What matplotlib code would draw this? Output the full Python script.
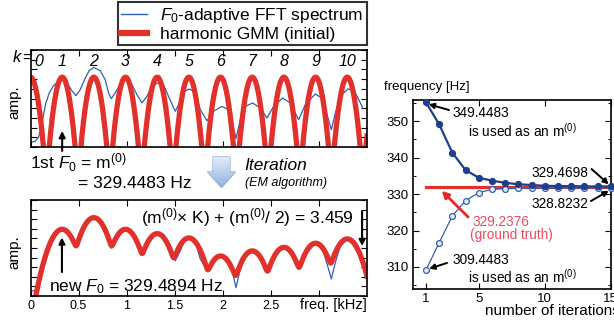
import numpy as np
import matplotlib
matplotlib.use('Agg')
import matplotlib.pyplot as plt
from matplotlib.lines import Line2D
from matplotlib.patches import Polygon

plt.rcParams['font.family'] = ['Liberation Sans', 'DejaVu Sans']
plt.rcParams['mathtext.fontset'] = 'custom'
plt.rcParams['mathtext.rm'] = 'Liberation Sans'
plt.rcParams['mathtext.it'] = 'Liberation Sans:italic'
plt.rcParams['mathtext.bf'] = 'Liberation Sans:bold'

W, H = 614, 327

# F0-adaptive FFT spectrum (freq in kHz, amp in arbitrary log units)
spec_freq = [0.0, 0.049, 0.083, 0.111, 0.135, 0.160, 0.195, 0.239, 0.291, 0.333,
             0.379, 0.431, 0.472, 0.517, 0.569, 0.611, 0.656, 0.725, 0.777, 0.812,
             0.840, 0.881, 0.933, 0.985, 1.055, 1.107, 1.159, 1.211, 1.263, 1.315,
             1.384, 1.443, 1.506, 1.558, 1.602, 1.651, 1.714, 1.766, 1.836, 1.904,
             1.992, 2.060, 2.102, 2.137, 2.182, 2.234, 2.310, 2.390, 2.460, 2.529,
             2.622, 2.702, 2.789, 2.858, 2.962, 3.032, 3.085, 3.129, 3.171, 3.223,
             3.303, 3.371, 3.431, 3.459]
spec_amp = [0.48, 0.58, 1.0, 1.96, 3.33, 4.54, 5.57, 6.32, 6.77, 6.87,
            6.6, 5.8, 5.29, 5.9, 7.1, 7.87, 8.2, 7.87, 6.94, 5.57,
            4.98, 5.57, 6.5, 7.0, 6.42, 5.39, 4.54, 5.22, 6.25, 6.6,
            6.42, 5.05, 3.68, 4.71, 5.74, 5.98, 5.67, 3.85, 2.71, 3.68,
            4.19, 3.85, 2.47, 0.86, 2.81, 4.19, 4.54, 4.02, 2.99, 4.19,
            5.05, 4.54, 2.81, 4.36, 5.46, 5.05, 3.33, 1.78, 3.5, 5.22,
            6.0, 5.74, 4.54, 3.95]

# harmonic GMM parameters
f0_init = 0.3294483   # kHz, m(0)
f0_new = 0.3294894    # kHz, after EM
init_harm = list(range(0, 12))
init_level = [7.2] * 12
new_harm = list(range(1, 11))
new_level = [6.95, 8.16, 6.95, 6.5, 6.05, 4.17, 4.7, 5.07, 5.5, 5.95]
k_labels = ['0', '1', '2', '3', '4', '5', '6', '7', '8', '9', '10']

# convergence of F0 estimate
iters = list(range(1, 16))
est_high = [355.2, 349.2, 341.4, 336.6, 334.5, 333.7, 333.1, 332.7, 332.5, 332.3,
            332.2, 332.2, 332.1, 332.1, 332.1]
est_low = [309.1, 316.6, 324.0, 328.2, 330.4, 331.3, 331.5, 331.6, 331.6, 331.7,
           331.7, 331.7, 331.7, 331.8, 331.8]
ground_truth = 331.9

RED = '#e2302b'
BLUE = '#2f5fb3'
NAVY = '#1d3f8e'
PINK = '#ee4a5e'


def log_gmm(freq, f0, harm, levels, curv, soft=0.3):
    comps = np.array([(lv - curv * (freq - k * f0) ** 2) / soft
                      for k, lv in zip(harm, levels)])
    mx = comps.max(axis=0)
    return soft * (mx + np.log(np.exp(comps - mx).sum(axis=0)))


def px_axes(l, t, r, b):
    return fig.add_axes([l / W, 1 - b / H, (r - l) / W, (b - t) / H])


def fpos(x, y):
    return x / W, 1 - y / H


def style(ax):
    ax.tick_params(direction='in', top=True, right=True, length=4, width=0.8,
                   labelsize=9, pad=3)
    ax.tick_params(which='minor', direction='in', top=True, right=True, length=2.5, width=0.7)
    for s in ax.spines.values():
        s.set_linewidth(1.2)


fig = plt.figure(figsize=(W / 100, H / 100), dpi=100)

ax_top = px_axes(30.5, 50, 367, 147)
ax_bot = px_axes(30.5, 200, 367, 296)
ax_r = px_axes(412.7, 100, 610.7, 289.3)

fgrid = np.linspace(0, 3.5, 3000)

# ---- top: initial GMM ----
ax_top.plot(spec_freq, spec_amp, color=BLUE, lw=0.9)
ax_top.plot(fgrid, log_gmm(fgrid, f0_init, init_harm, init_level, 395), color=RED, lw=3.8)
ax_top.set_xlim(0, 3.5)
ax_top.set_ylim(0, 10)
ax_top.set_xticks(np.arange(0, 3.01, 0.5))
ax_top.set_yticks(np.arange(0, 11))
ax_top.set_xticklabels([])
ax_top.set_yticklabels([])
style(ax_top)
for k, lab in enumerate(k_labels):
    xk = k * f0_init if k > 0 else 0.09
    ax_top.text(xk, 8.85, lab, ha='center', va='center', fontsize=11.5, style='italic')

handles = [Line2D([], [], color=BLUE, lw=1.0), Line2D([], [], color=RED, lw=4.5)]
leg = ax_top.legend(handles, [r'$\mathit{F}_{\mathit{0}}$-adaptive FFT spectrum', 'harmonic GMM (initial)'],
                    loc='lower right', bbox_to_anchor=(1.0, 1.05), borderaxespad=0,
                    fancybox=False, edgecolor='k', fontsize=12.5, handlelength=1.5,
                    handletextpad=0.75, borderpad=0.2, labelspacing=0.1)
leg.get_frame().set_linewidth(1.5)

ax_top.annotate('', xy=(f0_init, 1.65), xytext=(f0_init, -0.4), annotation_clip=False,
                arrowprops=dict(arrowstyle='-|>', color='k', lw=1.5, mutation_scale=9,
                                shrinkA=0, shrinkB=0))

# ---- bottom: GMM after EM ----
ax_bot.plot(spec_freq, spec_amp, color=BLUE, lw=0.9)
ax_bot.plot(fgrid, log_gmm(fgrid, f0_new, new_harm, new_level, 92), color=RED, lw=3.8)
ax_bot.set_xlim(0, 3.5)
ax_bot.set_ylim(0, 10)
ax_bot.set_xticks(np.arange(0, 3.01, 0.5))
ax_bot.set_xticklabels(['0', '0.5', '1', '1.5', '2', '2.5', ''])
ax_bot.set_yticks(np.arange(0, 11))
ax_bot.set_yticklabels([])
style(ax_bot)
ax_bot.text(1.0, -0.09, 'freq. [kHz]', transform=ax_bot.transAxes, ha='right', va='center',
            fontsize=10.5)
ax_bot.annotate('', xy=(0.327, 6.1), xytext=(0.327, 2.5),
                arrowprops=dict(arrowstyle='-|>', color='k', lw=1.5, mutation_scale=9,
                                shrinkA=0, shrinkB=0))
ax_bot.annotate('', xy=(3.449, 5.2), xytext=(3.449, 8.8),
                arrowprops=dict(arrowstyle='-|>', color='k', lw=1.5, mutation_scale=9,
                                shrinkA=0, shrinkB=0))
ax_bot.text(3.36, 8.2, r'(m$^{(0)}$$\times$ K) + (m$^{(0)}$/ 2) = 3.459', ha='right', va='center',
            fontsize=12.5)
ax_bot.text(0.19, 1.0, r'new $\mathit{F}_{\mathit{0}}$ = 329.4894 Hz', ha='left', va='center',
            fontsize=12.5)

# ---- left texts ----
fig.text(*fpos(14, 102), 'amp.', rotation=90, ha='center', va='center', fontsize=11)
fig.text(*fpos(14, 252), 'amp.', rotation=90, ha='center', va='center', fontsize=11)
fig.text(*fpos(16.5, 58), 'k', ha='center', va='center', fontsize=12, style='italic')
fig.text(*fpos(27.5, 58), '=', ha='center', va='center', fontsize=12)
fig.text(*fpos(30, 163), r'1st $\mathit{F}_{\mathit{0}}$ = m$^{(0)}$', ha='left', va='center',
         fontsize=12.5)
fig.text(*fpos(78, 183), '= 329.4483 Hz', ha='left', va='center', fontsize=12.5)
fig.text(*fpos(244, 165), 'Iteration', ha='left', va='center', fontsize=12.5, style='italic')
fig.text(*fpos(245, 183), '(EM algorithm)', ha='left', va='center', fontsize=9, style='italic')

# block arrow with gradient
ov = fig.add_axes([0, 0, 1, 1], zorder=5)
ov.set_xlim(0, W)
ov.set_ylim(H, 0)
ov.axis('off')
pts = [(213, 157), (230, 157), (230, 172), (235.5, 172), (221.5, 187.5), (207.5, 172), (213, 172)]
poly = Polygon(pts, closed=True, facecolor='none', edgecolor='#7b9ccc', lw=0.8)
ov.add_patch(poly)
grad = np.linspace(0, 1, 64).reshape(-1, 1)
img = ov.imshow(grad, extent=(207, 236, 188, 156), cmap=matplotlib.colors.LinearSegmentedColormap.from_list(
    'bl', ['#e3ecf8', '#8fb1de']), aspect='auto', origin='upper', zorder=4)
img.set_clip_path(poly)

# ---- right: convergence ----
ax_r.plot([1, 15], [ground_truth, ground_truth], color=RED, lw=2.3, zorder=1, clip_on=False)
ax_r.plot(iters, est_low, color=BLUE, lw=0.9, marker='o', ms=4.2, mfc='#e8eef8', mec=BLUE,
          mew=0.9, zorder=3, clip_on=False)
ax_r.plot(iters, est_high, color=NAVY, lw=1.6, marker='o', ms=4.2, mfc=NAVY, mec=NAVY,
          zorder=4, clip_on=False)
ax_r.set_xlim(0, 15)
ax_r.set_ylim(303.85, 355.85)
ax_r.set_xticks([1, 5, 10, 15])
ax_r.set_yticks([310, 320, 330, 340, 350])
ax_r.set_yticks(np.arange(305, 356, 5), minor=True)
style(ax_r)
ax_r.tick_params(labelsize=9.5)

ann = dict(arrowstyle='-|>', color='k', lw=1.4, mutation_scale=8, shrinkA=0, shrinkB=0)
ax_r.text(2.98, 352.3, '349.4483', fontsize=9.8, va='center')
ax_r.text(4.19, 347.3, r'is used as an m$^{(0)}$', fontsize=9.8, va='center')
ax_r.annotate('', xy=(1.2, 354.7), xytext=(2.75, 353.1), arrowprops=ann)
ax_r.text(2.98, 311.9, '309.4483', fontsize=9.8, va='center')
ax_r.text(4.19, 307.4, r'is used as an m$^{(0)}$', fontsize=9.8, va='center')
ax_r.annotate('', xy=(1.25, 309.5), xytext=(2.6, 311.1), arrowprops=ann)
ax_r.text(13.3, 335.9, '329.4698', fontsize=9.8, va='center', ha='right')
ax_r.annotate('', xy=(14.85, 332.7), xytext=(13.55, 336.9), arrowprops=ann, annotation_clip=False)
ax_r.text(13.3, 327.3, '328.8232', fontsize=9.8, va='center', ha='right')
ax_r.annotate('', xy=(14.85, 330.9), xytext=(13.5, 328.1), arrowprops=ann, annotation_clip=False)
ax_r.text(4.5, 322.3, '329.2376', fontsize=9.8, va='center', color=PINK)
ax_r.text(4.37, 318.7, '(ground truth)', fontsize=9.8, va='center', color=PINK)
ax_r.annotate('', xy=(2.2, 330.9), xytext=(4.2, 323.7),
              arrowprops=dict(arrowstyle='-|>', color='#e8262c', lw=2.0, mutation_scale=10,
                              shrinkA=0, shrinkB=0))

fig.text(*fpos(384, 87), 'frequency [Hz]', ha='left', va='center', fontsize=9.5)
fig.text(*fpos(485, 311), 'number of iterations', ha='left', va='center', fontsize=11)

fig.savefig('out.png', dpi=100)
